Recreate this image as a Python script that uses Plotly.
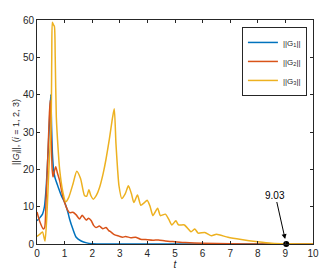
import plotly.graph_objects as go

# ---- data ----
t_g1 = [0, 0.1, 0.2, 0.27, 0.34, 0.41, 0.47, 0.5, 0.53, 0.56, 0.6, 0.65, 0.76, 0.88, 0.98,
        1.06, 1.12, 1.18, 1.3, 1.42, 1.6, 1.8, 2.0, 2.5, 4, 6, 8, 10]
g1 = [6.2, 7, 8, 10, 16, 26, 36, 40, 31, 24, 20, 17.8, 15.4, 13, 11.5,
      10, 8.5, 6.7, 4, 1.8, 0.8, 0.3, 0.1, 0, 0, 0, 0, 0]

t_g2 = [0, 0.11, 0.23, 0.28, 0.33, 0.4, 0.45, 0.48, 0.51, 0.55, 0.58, 0.63, 0.68, 0.74,
        0.82, 0.9, 1.0, 1.1, 1.18, 1.3, 1.42, 1.54, 1.64, 1.78, 1.87, 1.96, 2.05, 2.14,
        2.26, 2.38, 2.5, 2.6, 2.68, 2.8, 2.97, 3.1, 3.21, 3.4, 3.57, 3.75, 3.93, 4.2,
        4.4, 4.65, 5.0, 5.37, 6.0, 7.0, 8.0, 10]
g2 = [8.6, 5.8, 4, 4.5, 12, 25, 35, 38.5, 30, 20, 18, 19.5, 20.7, 19,
      17, 14, 11.1, 9.2, 8.4, 8.5, 7.8, 6.7, 7.7, 6.4, 6.9, 6.3, 5.0, 4.4,
      4.8, 4.1, 4.4, 3.6, 3.2, 2.5, 2.1, 1.8, 2.0, 1.7, 1.8, 1.3, 1.2, 1.0,
      1.1, 0.8, 0.6, 0.4, 0.2, 0.05, 0, 0]

t_g3 = [0, 0.1, 0.2, 0.29, 0.36, 0.43, 0.51, 0.535, 0.555, 0.59, 0.63, 0.66, 0.7, 0.76,
        0.82, 0.94, 1.04, 1.15, 1.3, 1.44, 1.58, 1.72, 1.8, 1.88, 1.95, 2.04, 2.15, 2.26,
        2.4, 2.5, 2.62, 2.74, 2.8, 2.86, 2.92, 2.97, 3.07, 3.2, 3.31, 3.42, 3.51, 3.64,
        3.76, 3.88, 3.99, 4.1, 4.2, 4.37, 4.47, 4.65, 4.78, 4.89, 5.03, 5.13, 5.34, 5.58,
        5.72, 5.84, 6.08, 6.32, 6.5, 6.92, 7.4, 8.0, 8.5, 9.0, 10]
g3 = [2, 2.6, 3.2, 0.8, 8, 20, 32, 50, 59.4, 58.8, 58.3, 50, 34, 26,
      20, 13.8, 11.3, 12.5, 16, 19.5, 17.5, 13, 12.8, 14.5, 13, 12, 13, 15,
      19, 22.7, 28, 34, 36.2, 27, 20, 15.6, 12.2, 13.5, 15.6, 13.5, 11.1, 13.1,
      10.4, 11, 11.7, 10, 7.6, 9.6, 7.6, 8, 6.5, 5.1, 6.2, 5.1, 5.1, 3.3,
      4, 2.9, 3.1, 2.2, 2.6, 1.8, 1.2, 0.6, 0.2, 0.05, 0]

mark_t = [9.03]
mark_v = [0]
mark_label = "9.03"

x_ticks = list(range(0, 11))
y_ticks = list(range(0, 61, 10))

colors = ["#0072BD", "#D95319", "#EDB120"]
names = ["||G<sub>1</sub>||", "||G<sub>2</sub>||", "||G<sub>3</sub>||"]

fig = go.Figure()
for tt, vv, c, n in zip([t_g1, t_g2, t_g3], [g1, g2, g3], colors, names):
    fig.add_trace(go.Scatter(x=tt, y=vv, mode="lines", name=n,
                             line=dict(color=c, width=1.5, shape="spline", smoothing=0.6)))

fig.add_trace(go.Scatter(x=mark_t, y=mark_v, mode="markers", showlegend=False,
                         marker=dict(color="black", size=6), cliponaxis=False))

fig.add_annotation(x=mark_t[0], y=mark_v[0], text=mark_label, showarrow=True,
                   ax=-11, ay=-49, arrowhead=2, arrowsize=1, arrowwidth=1,
                   arrowcolor="black", standoff=5,
                   font=dict(size=10, color="black", family="Liberation Sans"))

axis_common = dict(showline=True, linecolor="#262626", linewidth=1, mirror="ticks",
                   ticks="inside", ticklen=3, tickcolor="#262626", showgrid=False,
                   zeroline=False, tickfont=dict(size=10, color="#262626"))

fig.update_xaxes(range=[0, 10], tickvals=x_ticks,
                 title=dict(text="<i>t</i>", font=dict(size=10, color="#262626"), standoff=2),
                 **axis_common)
fig.update_yaxes(range=[0, 60], tickvals=y_ticks,
                 title=dict(text="||<i>G<sub>i</sub></i>||, (<i>i</i> = 1, 2, 3)",
                            font=dict(size=9, color="#262626"), standoff=1),
                 **axis_common)

fig.update_layout(
    width=331, height=280,
    margin=dict(l=37, r=15, t=20, b=35),
    paper_bgcolor="white", plot_bgcolor="white",
    font=dict(family="Liberation Sans", color="#262626"),
    legend=dict(x=0.978, y=0.969, xanchor="right", yanchor="top",
                bgcolor="white", bordercolor="#262626", borderwidth=1,
                font=dict(size=8), tracegroupgap=0, itemwidth=30),
)

fig.write_html("out.html", config={"displayModeBar": False},
               post_script="document.body.style.margin='0';")
